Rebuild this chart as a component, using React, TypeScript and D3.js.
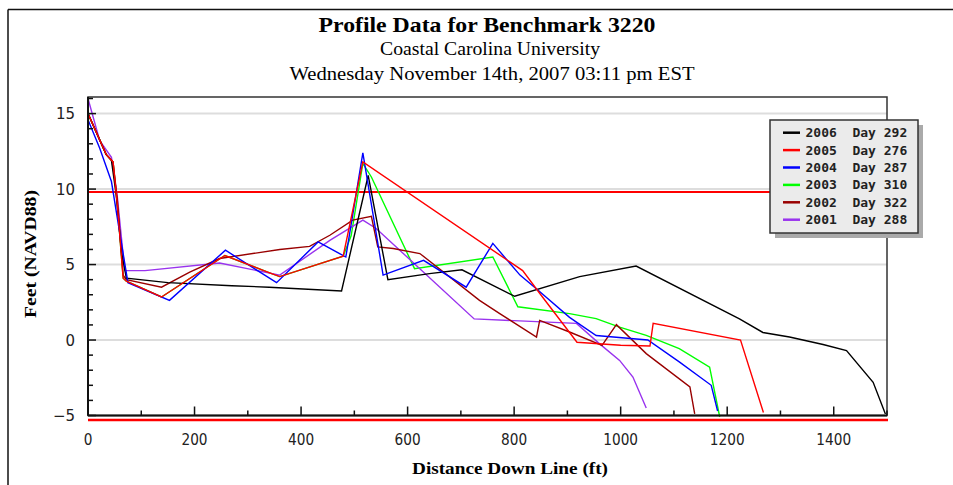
import React from "react";
import * as d3 from "d3";

// ---- data (distance ft, elevation ft NAVD88) ----
const seriesYears = ["2006", "2005", "2004", "2003", "2002", "2001"];
const seriesDays = ["292", "276", "287", "310", "322", "288"];
const seriesColors = ["#000000", "#ff0000", "#0000ff", "#00ff00", "#990000", "#9933ee"];

const p2006: [number, number][] = [
  [0, 15], [34, 12.3], [44, 11.9], [53, 9.6], [63, 5.8], [72, 4.1], [150, 3.8], [270, 3.6], [340, 3.5],
  [476, 3.25], [526, 10.9], [563, 4.0], [641, 4.4], [702, 4.65], [801, 2.9], [923, 4.2], [1029, 4.9],
  [1223, 1.4], [1267, 0.5], [1317, 0.2], [1380, -0.3], [1424, -0.7], [1474, -2.8], [1497, -4.9],
];
const p2005: [number, number][] = [
  [0, 15], [34, 12.3], [47, 11.8], [55, 9.0], [66, 4.1], [72, 3.9], [138, 2.85], [257, 5.6], [341, 4.45],
  [360, 4.2], [479, 5.55], [516, 11.8], [816, 4.6], [850, 3.0], [918, -0.15], [1000, -0.35], [1055, -0.4],
  [1061, 1.1], [1225, 0.0], [1268, -4.8],
];
const p2004: [number, number][] = [
  [0, 14.6], [22, 12.7], [44, 10.5], [60, 7.0], [75, 3.8], [153, 2.63], [258, 5.95], [354, 3.8], [432, 6.5],
  [484, 5.5], [516, 12.4], [554, 4.3], [630, 5.28], [710, 3.5], [760, 6.4], [811, 4.3], [845, 3.3],
  [904, 1.5], [954, 0.3], [1051, 0.0], [1110, -1.45], [1170, -3.0], [1182, -4.7],
];
const p2003: [number, number][] = [
  [0, 15], [34, 12.3], [47, 11.8], [55, 9.0], [66, 4.1], [72, 3.9], [138, 2.85], [257, 5.6], [341, 4.45],
  [360, 4.2], [479, 5.55], [494, 6.9], [516, 11.7], [532, 10.8], [613, 4.73], [760, 5.5], [807, 2.2],
  [904, 1.75], [954, 1.42], [998, 0.86], [1048, 0.31], [1110, -0.57], [1167, -1.8], [1186, -5.1],
];
const p2002: [number, number][] = [
  [0, 15], [34, 12.3], [47, 11.8], [55, 9.3], [66, 4.3], [72, 4.0], [138, 3.5], [191, 4.5], [247, 5.4],
  [360, 6.0], [416, 6.2], [454, 6.94], [497, 7.94], [532, 8.2], [544, 6.17], [573, 6.06], [623, 5.73],
  [735, 2.63], [773, 1.75], [842, 0.2], [848, 1.3], [904, 0.53], [965, -0.35], [992, 1.02], [1048, -0.9],
  [1130, -3.1], [1139, -4.9],
];
const p2001: [number, number][] = [
  [0, 16], [22, 13.2], [44, 12.1], [55, 9.5], [69, 4.6], [107, 4.6], [247, 5.1], [360, 4.3], [454, 6.6],
  [516, 7.94], [541, 7.39], [725, 1.4], [917, 1.1], [960, -0.24], [998, -1.35], [1023, -2.45], [1048, -4.5],
];
const seriesPoints = [p2006, p2005, p2004, p2003, p2002, p2001];
// draw order (bottom to top), indices into the series arrays
const drawOrder = [3, 5, 4, 0, 2, 1];

const refHigh = 9.8;
const refLow = -5.3;

const xTickValues = d3.range(0, 1501, 100);
const xLabelValues = [0, 200, 400, 600, 800, 1000, 1200, 1400];
const yTickValues = d3.range(-5, 17, 1);
const yLabelValues = [-5, 0, 5, 10, 15];

const titleText = "Profile Data for Benchmark 3220";
const subtitleText = "Coastal Carolina University";
const dateText = "Wednesday November 14th, 2007 03:11 pm EST";
const xTitle = "Distance Down Line (ft)";
const yTitle = "Feet (NAVD88)";

export default function App() {
  const W = 953, H = 485;
  const L = 88, R = 887, T = 97, B = 415.5;
  const x = d3.scaleLinear().domain([0, 1500]).range([L, R]);
  const y = d3.scaleLinear().domain([-5, 16.1]).range([B, T]);
  const line = d3.line<[number, number]>().x((d) => x(d[0])).y((d) => y(d[1]));
  const serif = "'Liberation Serif', 'Times New Roman', serif";
  const sans = "'DejaVu Sans', Verdana, sans-serif";

  return (
    <svg width={W} height={H} style={{ position: "absolute", left: 0, top: 0, background: "#fff" }}>
      <rect x={0} y={0} width={W} height={H} fill="#fff" />
      {/* outer frame */}
      <line x1={8} y1={9.5} x2={W} y2={9.5} stroke="#111" strokeWidth={1.5} />
      <line x1={8} y1={9.5} x2={8} y2={H} stroke="#111" strokeWidth={1.5} />

      {/* titles */}
      <text x={487} y={32} textAnchor="middle" fontFamily={serif} fontWeight="bold" fontSize={21}
        textLength={337} lengthAdjust="spacingAndGlyphs">{titleText}</text>
      <text x={490} y={55} textAnchor="middle" fontFamily={serif} fontSize={18}
        textLength={220} lengthAdjust="spacingAndGlyphs">{subtitleText}</text>
      <text x={492} y={80} textAnchor="middle" fontFamily={serif} fontSize={18}
        textLength={405} lengthAdjust="spacingAndGlyphs">{dateText}</text>

      {/* gridlines */}
      {yLabelValues.filter((v) => v > -5).map((v) => (
        <line key={"g" + v} x1={L} x2={R} y1={y(v)} y2={y(v)} stroke="#dddddd" strokeWidth={2} />
      ))}

      {/* reference lines */}
      <line x1={L} x2={R} y1={y(refHigh)} y2={y(refHigh)} stroke="#ff0000" strokeWidth={2} />

      {/* series */}
      <g clipPath="url(#plotclip)">
        {drawOrder.map((i) => (
          <path key={seriesYears[i]} d={line(seriesPoints[i]) || ""} fill="none" stroke={seriesColors[i]}
            strokeWidth={1.4} strokeLinejoin="miter" />
        ))}
      </g>
      <defs>
        <clipPath id="plotclip">
          <rect x={L} y={T - 2} width={R - L} height={B - T + 4} />
        </clipPath>
      </defs>

      {/* plot frame */}
      <rect x={L} y={T} width={R - L} height={B - T} fill="none" stroke="#333" strokeWidth={1.5} />
      <line x1={L} x2={L} y1={T} y2={B} stroke="#111" strokeWidth={2} />
      <line x1={L} x2={R} y1={B} y2={B} stroke="#111" strokeWidth={2} />
      <line x1={L} x2={R + 1} y1={y(refLow)} y2={y(refLow)} stroke="#ff0000" strokeWidth={2.5} />

      {/* y ticks */}
      {yTickValues.map((v) => (
        <line key={"yt" + v} x1={L} x2={L + (v % 5 === 0 ? 8 : 5)} y1={y(v)} y2={y(v)} stroke="#111" strokeWidth={1.5} />
      ))}
      {yLabelValues.map((v) => (
        <text key={"yl" + v} x={75} y={y(v) + 5.5} textAnchor="end" fontFamily={sans} fontSize={15} fill="#222">
          {v < 0 ? "\u2212" + Math.abs(v) : String(v)}
        </text>
      ))}

      {/* x ticks */}
      {xTickValues.map((v) => (
        <line key={"xt" + v} x1={x(v)} x2={x(v)} y1={B} y2={B - (v % 200 === 0 ? 9 : 5)} stroke="#111" strokeWidth={1.5} />
      ))}
      {xLabelValues.map((v) => {
        const s = String(v);
        return (
          <text key={"xl" + v} x={x(v)} y={445} textAnchor="middle" fontFamily={sans} fontSize={15} fill="#222"
            textLength={s.length * 8.7} lengthAdjust="spacingAndGlyphs">{s}</text>
        );
      })}

      {/* axis titles */}
      <text x={510} y={474} textAnchor="middle" fontFamily={serif} fontWeight="bold" fontSize={17}
        textLength={196} lengthAdjust="spacingAndGlyphs">{xTitle}</text>
      <text transform={`translate(36, 254) rotate(-90)`} textAnchor="middle" fontFamily={serif} fontWeight="bold"
        fontSize={17} textLength={128} lengthAdjust="spacingAndGlyphs">{yTitle}</text>

      {/* legend */}
      <rect x={775} y={125} width={148} height={113} fill="#aaaaaa" />
      <rect x={770} y={120} width={148} height={113} fill="#ebebeb" stroke="#333" strokeWidth={1.5} />
      {seriesYears.map((yr, i) => {
        const cy = 132.7 + i * 17.4;
        return (
          <g key={"lg" + yr}>
            <line x1={783} x2={800} y1={cy} y2={cy} stroke={seriesColors[i]} strokeWidth={2.5} />
            <text x={805.5} y={cy + 4.5} fontFamily="'DejaVu Sans Mono', monospace" fontWeight="bold" fontSize={13}
              fill="#222" style={{ whiteSpace: "pre" }}>{`${yr}  Day ${seriesDays[i]}`}</text>
          </g>
        );
      })}
    </svg>
  );
}
